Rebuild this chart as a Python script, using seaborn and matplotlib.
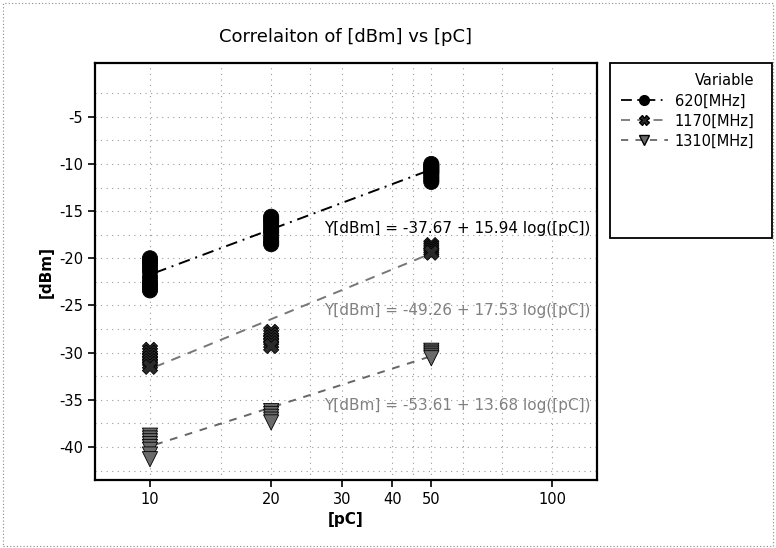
import numpy as np
import pandas as pd
import seaborn as sns
import matplotlib
matplotlib.use('Agg')
from matplotlib import pyplot as plt
from matplotlib.lines import Line2D
from matplotlib.patches import Rectangle
from matplotlib.ticker import FixedLocator, NullFormatter

## values
series = ['620[MHz]', '1170[MHz]', '1310[MHz]']
pc_levels = [10, 20, 50]

y_620 = {10: [-20.0, -20.3, -20.6, -21.0, -21.4, -22.0, -22.5, -22.8, -23.1, -23.4],
         20: [-15.6, -15.9, -16.2, -16.6, -17.0, -17.3, -17.8, -18.2, -18.5],
         50: [-10.0, -10.2, -10.4, -10.6, -10.8, -11.0, -11.3, -11.6, -11.9]}
y_1170 = {10: [-29.7, -30.0, -30.3, -30.6, -30.9, -31.2, -31.5],
          20: [-27.8, -28.1, -28.4, -28.7, -29.0, -29.3],
          50: [-18.6, -18.8, -19.0, -19.2, -19.4]}
y_1310 = {10: [-38.8, -39.1, -39.4, -39.7, -40.0, -40.3, -40.8, -41.3],
          20: [-36.2, -36.5, -36.8, -37.1, -37.4],
          50: [-29.8, -30.0, -30.2, -30.4, -30.6]}

## fit coefficients printed on the chart: Y = a + b log([pC])
fit_a = [-37.67, -49.26, -53.61]
fit_b = [15.94, 17.53, 13.68]

xticks = [10, 20, 30, 40, 50, 100]
yticks = [-5, -10, -15, -20, -25, -30, -35, -40]

rows = []
for name, d in zip(series, [y_620, y_1170, y_1310]):
    for pc in pc_levels:
        for v in d[pc]:
            rows.append({'pC': pc, 'dBm': v, 'Variable': name})
df = pd.DataFrame(rows)

sns.set_style('white')
plt.rcParams['font.family'] = ['DejaVu Sans']
plt.rcParams['axes.unicode_minus'] = False
plt.rcParams['text.color'] = 'black'
plt.rcParams['xtick.color'] = 'black'
plt.rcParams['ytick.color'] = 'black'
plt.rcParams['axes.labelcolor'] = 'black'

fig = plt.figure(figsize=(7.76, 5.48), dpi=100)
ax = fig.add_axes([0.1224, 0.1241, 0.6469, 0.7609])

colors = ['#000000', '#2a2a2a', '#6a6a6a']
line_colors = ['#000000', '#777777', '#666666']
markers = ['o', 'X', 'v']
linestyles = [(0, (6, 3, 1, 3)), (0, (5, 4)), (0, (4, 4))]

sns.scatterplot(ax=ax, data=df, x='pC', y='dBm', hue='Variable', style='Variable',
                palette=dict(zip(series, colors)), markers=dict(zip(series, markers)),
                s=120, edgecolor='#000000', linewidth=0.6, legend=False, zorder=3)

## fitted log lines over the measured range
xfit = np.array([10.3, 50])
for a, b, lc, ls in zip(fit_a, fit_b, line_colors, linestyles):
    fit_df = pd.DataFrame({'pC': xfit, 'dBm': a + b * np.log10(xfit)})
    sns.lineplot(ax=ax, data=fit_df, x='pC', y='dBm', color=lc, linestyle=ls,
                 linewidth=1.4, zorder=2)

ax.set_xscale('log')
ax.set_xlim(7.3, 129)
ax.set_ylim(-43.5, 0.7)
ax.xaxis.set_major_locator(FixedLocator(xticks))
ax.xaxis.set_minor_locator(FixedLocator([15, 25, 45, 60, 75]))
ax.xaxis.set_minor_formatter(NullFormatter())
ax.set_xticklabels([str(t) for t in xticks])
ax.set_yticks(yticks)
ax.set_yticks(np.arange(-42.5, 0, 2.5), minor=True)
ax.tick_params(axis='both', which='major', direction='out', length=5, width=1.2,
               labelsize=10.5, bottom=True, left=True)
ax.tick_params(axis='both', which='minor', length=0)
ax.grid(True, which='both', linestyle=(0, (1, 4)), color='#999999', linewidth=0.8)
for sp in ax.spines.values():
    sp.set_color('black')
    sp.set_linewidth(1.6)

ax.set_xlabel('[pC]', fontsize=11, fontweight='bold')
ax.set_ylabel('[dBm]', fontsize=11, fontweight='bold')
ax.set_title('Correlaiton of [dBm] vs [pC]', fontsize=13, pad=15)

eq_y = [-16.8, -25.5, -35.6]
eq_colors = ['#000000', '#808080', '#808080']
for a, b, yy, c in zip(fit_a, fit_b, eq_y, eq_colors):
    ax.text(124, yy, 'Y[dBm] = %.2f + %.2f log([pC])' % (a, b), ha='right',
            va='center', fontsize=11, color=c, zorder=4)

## legend box outside the axes
fig.patches.append(Rectangle((0.786, 0.566), 0.209, 0.319, transform=fig.transFigure,
                             fill=False, edgecolor='black', linewidth=1.3))
handles = [Line2D([0], [0], color=lc, linestyle=ls, marker=m, markersize=7,
                  markerfacecolor=c, markeredgecolor='#000000', linewidth=1.3)
           for lc, ls, m, c in zip(line_colors, linestyles, markers, colors)]
leg = fig.legend(handles, series, title='Variable', loc='upper left',
                 bbox_to_anchor=(0.787, 0.885), frameon=False, fontsize=10.5,
                 title_fontsize=10.5, handlelength=3.2, borderaxespad=0.3,
                 labelspacing=0.35, handletextpad=0.5)
leg._legend_box.align = 'right'

## dotted outer border
fig.patches.append(Rectangle((0.004, 0.004), 0.992, 0.99, transform=fig.transFigure,
                             fill=False, edgecolor='#888888', linewidth=0.8,
                             linestyle=(0, (1, 2))))

fig.savefig('out.png', dpi=100)
